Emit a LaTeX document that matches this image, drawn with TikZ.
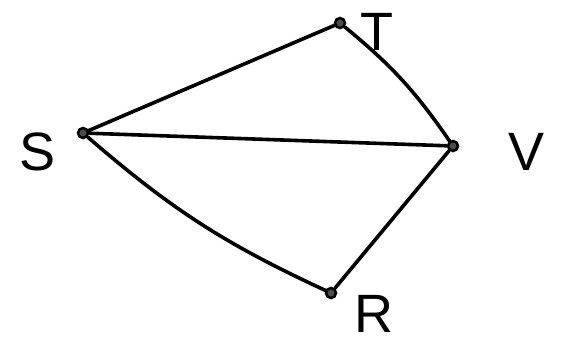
\documentclass[tikz,border=0pt]{standalone}
\usepackage{fontspec}
\setmainfont{Liberation Sans}
\begin{document}
\begin{tikzpicture}[x=1pt,y=-1pt,
  vert/.style={circle,draw,fill=black!70,line width=2.5pt,minimum size=10pt,inner sep=0pt},
  edge/.style={line width=3.6pt,line cap=round},
  lbl/.style={font=\fontsize{54}{54}\selectfont,inner sep=0pt}]
\useasboundingbox (0,0) rectangle (563,349);
\node[vert] (S) at (83,133) {};
\node[vert] (T) at (340,23) {};
\node[vert] (V) at (453,146) {};
\node[vert] (R) at (331,293) {};
\node[lbl] (Sl) at (38,152) {S};
\node[lbl] (Tl) at (377,32) {T};
\node[lbl] (Vl) at (527,152) {V};
\node[lbl] (Rl) at (374,314) {R};
\draw[edge] (S) -- (T);
\draw[edge] (T) to[bend left=8] (V);
\draw[edge] (S) -- (V);
\draw[edge] (S) to[bend right=8] (R);
\draw[edge] (R) -- (V);
\end{tikzpicture}
\end{document}
